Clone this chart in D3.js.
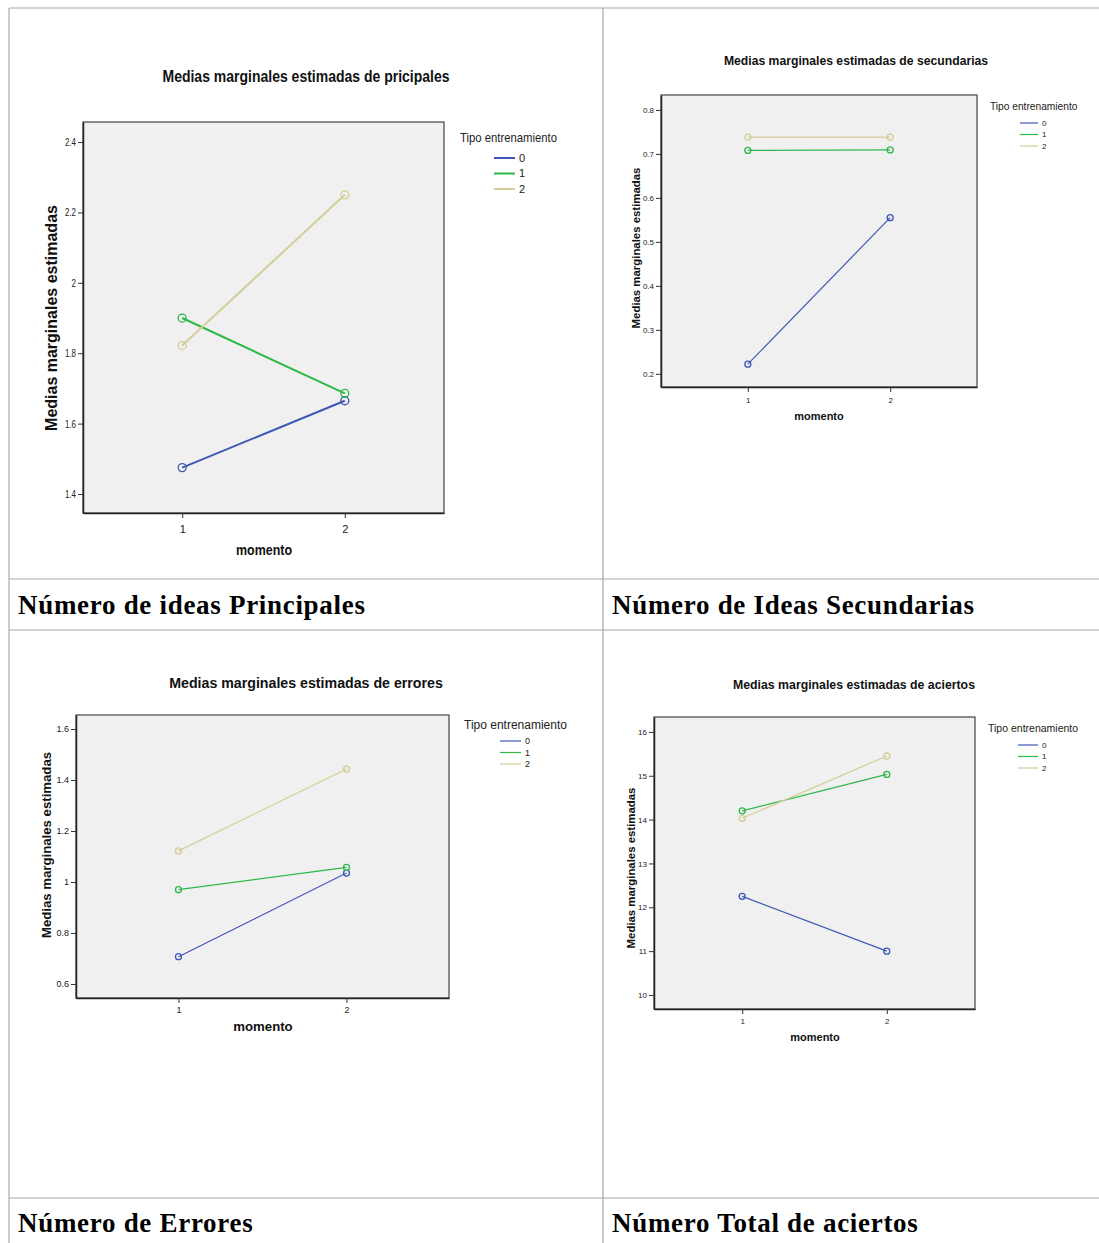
<!DOCTYPE html>
<html>
<head>
<meta charset="utf-8">
<script src="https://cdn.jsdelivr.net/npm/d3@7"></script>
<style>
  body { margin: 0; background: #fff; }
  svg { display: block; }
</style>
</head>
<body>
<svg id="chart"></svg>
<script>
// momento (x) and Tipo entrenamiento (series)
const momentos = [1, 2];
const tipos = ["0", "1", "2"];
const colores = ["#3e58b5", "#2eb848", "#d3ce97"];

// estimated marginal means, one row per tipo
const principales = [[1.475, 1.665], [1.900, 1.686], [1.822, 2.250]];
const secundarias = [[0.222, 0.555], [0.708, 0.709], [0.738, 0.738]];
const errores = [[0.707, 1.035], [0.970, 1.057], [1.122, 1.443]];
const aciertos = [[12.25, 11.00], [14.20, 15.03], [14.03, 15.45]];

// tick labels of each y axis
const ticksPrincipales = [1.4, 1.6, 1.8, 2, 2.2, 2.4];
const ticksSecundarias = [0.2, 0.3, 0.4, 0.5, 0.6, 0.7, 0.8];
const ticksErrores = [0.6, 0.8, 1, 1.2, 1.4, 1.6];
const ticksAciertos = [10, 11, 12, 13, 14, 15, 16];

const titulos = [
  "Medias marginales estimadas de pricipales",
  "Medias marginales estimadas de secundarias",
  "Medias marginales estimadas de errores",
  "Medias marginales estimadas de aciertos"
];
const captions = [
  "Número de ideas Principales",
  "Número de Ideas Secundarias",
  "Número de Errores",
  "Número Total de aciertos"
];

const width = 1099, height = 1243;
const svg = d3.select("#chart").attr("width", width).attr("height", height);

// table grid
const grid = svg.append("g").attr("stroke", "#a8a8a8").attr("stroke-width", 1.2);
grid.append("line").attr("x1", 9).attr("x2", width).attr("y1", 8).attr("y2", 8);
grid.append("line").attr("x1", 9).attr("x2", 9).attr("y1", 8).attr("y2", height);
grid.append("line").attr("x1", 603).attr("x2", 603).attr("y1", 8).attr("y2", height);
[579, 630, 1198].forEach(y =>
  grid.append("line").attr("x1", 9).attr("x2", width).attr("y1", y).attr("y2", y));

svg.append("g")
  .attr("font-family", "'Liberation Serif', 'DejaVu Serif', serif")
  .attr("font-weight", "bold")
  .attr("font-size", 27)
  .attr("letter-spacing", 0.7)
  .attr("fill", "#000")
  .selectAll("text")
  .data(captions)
  .join("text")
  .attr("x", (d, i) => i % 2 ? 612 : 18)
  .attr("y", (d, i) => i < 2 ? 614 : 1232)
  .text(d => d);

const sans = "'Liberation Sans', Arial, sans-serif";

// chart 1 was exported with a condensed face: squeeze some texts with textLength
const panels = [
  {data: principales, ticks: ticksPrincipales, yDomain: [1.346, 2.457], frame: [83, 122, 444, 513],
   titleSize: 16, titleLen: 287, titleX: 306, titleY: 82, tickSize: 11, tickSqueeze: 0.72,
   yLabSize: 16, yLabX: 57, yLabY: 318,
   xLabSize: 15, xLabLen: 56, xLabX: 264, xLabY: 555, xTickY: 533,
   legX: 460, legY: 142, legLen: 97, lineX: [494, 515], legRow0: 158, legStep: 15.5,
   legTitleSize: 13.5, legItemSize: 11, lw: 2, r: 4},
  {data: secundarias, ticks: ticksSecundarias, yDomain: [0.170, 0.834], frame: [661, 95, 977, 387],
   titleSize: 12.2, titleX: 856, titleY: 65, tickSize: 8, yLabSize: 11.4, yLabX: 640, yLabY: 248,
   xLabSize: 11, xLabX: 819, xLabY: 420, xTickY: 403, legX: 990, legY: 110, lineX: [1020, 1038], legRow0: 123, legStep: 11.5,
   legTitleSize: 10.2, legItemSize: 8, lw: 1.2, r: 3},
  {data: errores, ticks: ticksErrores, yDomain: [0.545, 1.655], frame: [76, 715, 449, 998],
   titleSize: 14.2, titleX: 306, titleY: 688, tickSize: 9, yLabSize: 13.2, yLabX: 51, yLabY: 845,
   xLabSize: 13.2, xLabX: 263, xLabY: 1031, xTickY: 1013, legX: 464, legY: 729, lineX: [500, 521], legRow0: 741, legStep: 11.5,
   legTitleSize: 12, legItemSize: 9, lw: 1.2, r: 3},
  {data: aciertos, ticks: ticksAciertos, yDomain: [9.68, 16.34], frame: [654, 717, 975, 1009],
   titleSize: 12.3, titleX: 854, titleY: 689, tickSize: 8, yLabSize: 11.4, yLabX: 635, yLabY: 868,
   xLabSize: 11, xLabX: 815, xLabY: 1041, xTickY: 1024, legX: 988, legY: 732, lineX: [1018, 1038], legRow0: 745, legStep: 11.5,
   legTitleSize: 10.5, legItemSize: 8, lw: 1.2, r: 3}
];

function squeeze(sel, len) {
  if (len) sel.attr("textLength", len).attr("lengthAdjust", "spacingAndGlyphs");
}

panels.forEach((p, k) => {
  const [x0, y0, x1, y1] = p.frame;
  const x = d3.scaleLinear([0.39, 2.61], [x0, x1]);
  const y = d3.scaleLinear(p.yDomain, [y1, y0]);
  const g = svg.append("g").attr("font-family", sans);

  g.append("text")
    .attr("x", p.titleX).attr("y", p.titleY)
    .attr("text-anchor", "middle").attr("font-weight", "bold")
    .attr("font-size", p.titleSize).attr("fill", "#111")
    .text(titulos[k])
    .call(squeeze, p.titleLen);

  g.append("rect")
    .attr("x", x0).attr("y", y0).attr("width", x1 - x0).attr("height", y1 - y0)
    .attr("fill", "#f0f0f0").attr("stroke", "#444").attr("stroke-width", 1.2);

  // y axis
  g.append("g")
    .attr("transform", `translate(${x0},0)`)
    .call(d3.axisLeft(y).tickValues(p.ticks).tickSize(5).tickSizeOuter(0).tickPadding(2).tickFormat(d => String(d)))
    .call(a => a.select(".domain").attr("stroke", "#222").attr("stroke-width", 1.5))
    .call(a => a.selectAll(".tick line").attr("stroke", "#333"))
    .call(a => a.selectAll(".tick text").attr("font-family", sans).attr("font-size", p.tickSize).attr("fill", "#222"))
    .call(a => {
      if (p.tickSqueeze) a.selectAll(".tick text").each(function () {
        squeeze(d3.select(this), this.getComputedTextLength() * p.tickSqueeze);
      });
    });

  // x axis
  g.append("g")
    .attr("transform", `translate(0,${y1})`)
    .call(d3.axisBottom(x).tickValues(momentos).tickSize(5).tickSizeOuter(0).tickPadding(0).tickFormat(d => String(d)))
    .call(a => a.select(".domain").attr("stroke", "#222").attr("stroke-width", 1.5))
    .call(a => a.selectAll(".tick line").attr("stroke", "#333"))
    .call(a => a.selectAll(".tick text").attr("font-family", sans).attr("font-size", p.tickSize)
      .attr("fill", "#222").attr("dy", null).attr("y", p.xTickY - y1));

  g.append("text")
    .attr("transform", `translate(${p.yLabX},${p.yLabY}) rotate(-90)`)
    .attr("text-anchor", "middle").attr("font-weight", "bold")
    .attr("font-size", p.yLabSize).attr("fill", "#111")
    .text("Medias marginales estimadas");

  g.append("text")
    .attr("x", p.xLabX).attr("y", p.xLabY)
    .attr("text-anchor", "middle").attr("font-weight", "bold")
    .attr("font-size", p.xLabSize).attr("fill", "#111")
    .text("momento")
    .call(squeeze, p.xLabLen);

  // series
  const line = d3.line().x((d, i) => x(momentos[i])).y(d => y(d));
  const series = g.append("g").selectAll("g").data(p.data).join("g");
  series.append("path")
    .attr("d", d => line(d)).attr("fill", "none")
    .attr("stroke", (d, i) => colores[i]).attr("stroke-width", p.lw);
  series.each(function (d, i) {
    d3.select(this).selectAll("circle").data(d).join("circle")
      .attr("cx", (v, j) => x(momentos[j])).attr("cy", v => y(v)).attr("r", p.r)
      .attr("fill", "none").attr("stroke", colores[i]).attr("stroke-width", 1.3);
  });

  // legend
  const leg = g.append("g");
  leg.append("text")
    .attr("x", p.legX).attr("y", p.legY)
    .attr("font-size", p.legTitleSize).attr("fill", "#222")
    .text("Tipo entrenamiento")
    .call(squeeze, p.legLen);
  const rows = leg.selectAll("g.row").data(tipos).join("g").attr("class", "row")
    .attr("transform", (d, i) => `translate(0,${p.legRow0 + i * p.legStep})`);
  rows.append("line")
    .attr("x1", p.lineX[0]).attr("x2", p.lineX[1])
    .attr("stroke", (d, i) => colores[i]).attr("stroke-width", p.lw);
  rows.append("text")
    .attr("x", p.lineX[1] + 4).attr("dy", "0.35em")
    .attr("font-size", p.legItemSize).attr("fill", "#222")
    .text(d => d);
});
</script>
</body>
</html>
